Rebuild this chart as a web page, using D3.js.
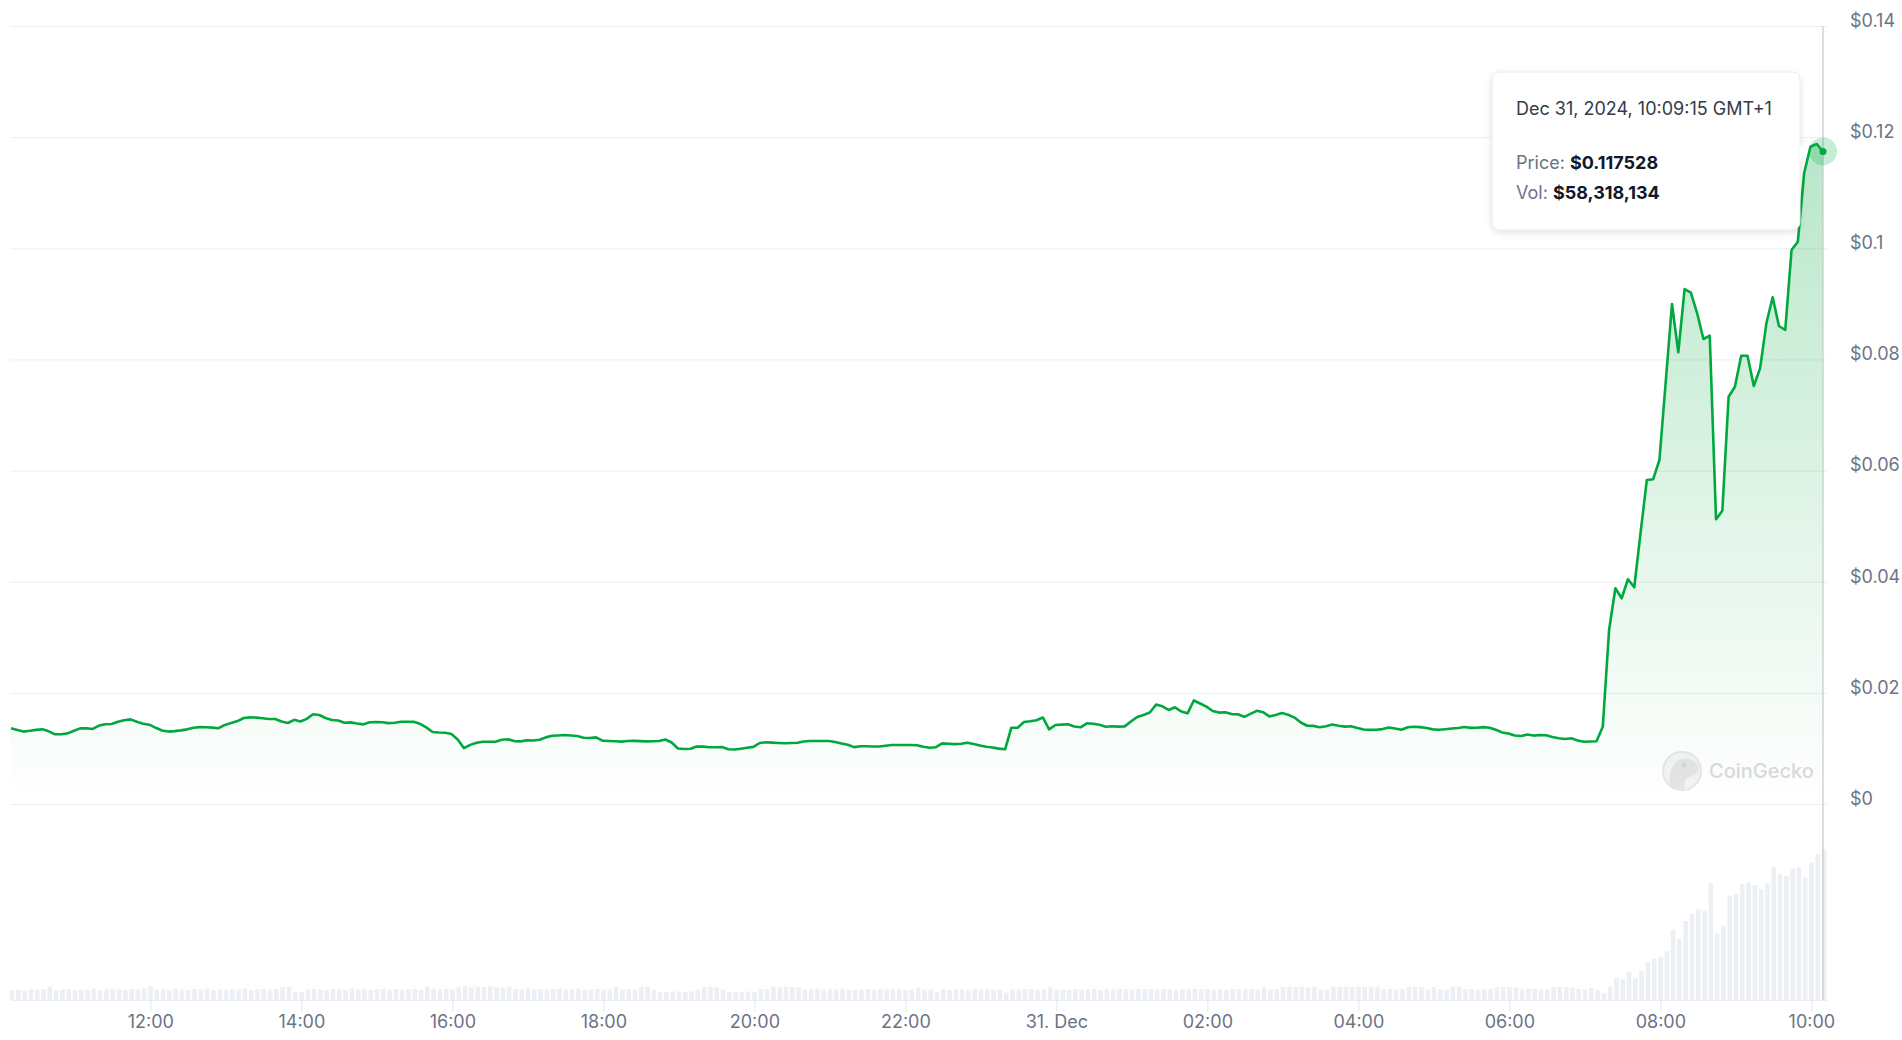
<!DOCTYPE html>
<html>
<head>
<meta charset="utf-8">
<script src="https://d3js.org/d3.v7.min.js"></script>
<style>
  html, body { margin: 0; padding: 0; background: #fff; }
  svg { display: block; font-family: "Inter", "Noto Sans", sans-serif; }
</style>
</head>
<body>
<div id="chart"></div>
<script>
    // 5 minute points, Dec 30 2024 10:09:15 -> Dec 31 2024 10:09:15 (GMT+1 wall clock)
    var startTime = Date.UTC(2024, 11, 30, 10, 9, 15);
    var stepMinutes = 5;

    // price in USD, one value per 5 minutes
    var prices = [
        0.01371, 0.01341, 0.01312, 0.01326, 0.01343, 0.01355, 0.01317, 0.01263, 0.01263, 0.01280, 0.01326, 0.01370,
        0.01373, 0.01359, 0.01420, 0.01445, 0.01449, 0.01490, 0.01517, 0.01532, 0.01488, 0.01454, 0.01436, 0.01380,
        0.01332, 0.01312, 0.01321, 0.01334, 0.01352, 0.01382, 0.01393, 0.01391, 0.01384, 0.01373, 0.01432, 0.01467,
        0.01501, 0.01557, 0.01568, 0.01564, 0.01551, 0.01539, 0.01539, 0.01494, 0.01467, 0.01524, 0.01494, 0.01540,
        0.01623, 0.01611, 0.01557, 0.01521, 0.01512, 0.01472, 0.01478, 0.01458, 0.01442, 0.01479, 0.01483, 0.01479,
        0.01465, 0.01472, 0.01490, 0.01490, 0.01487, 0.01452, 0.01388, 0.01305, 0.01296, 0.01292, 0.01269, 0.01170,
        0.01013, 0.01073, 0.01110, 0.01130, 0.01130, 0.01130, 0.01164, 0.01173, 0.01141, 0.01136, 0.01155, 0.01152,
        0.01164, 0.01208, 0.01236, 0.01243, 0.01250, 0.01241, 0.01234, 0.01202, 0.01198, 0.01208, 0.01150, 0.01143,
        0.01137, 0.01132, 0.01143, 0.01145, 0.01141, 0.01136, 0.01139, 0.01143, 0.01170, 0.01116, 0.01008, 0.00999,
        0.01004, 0.01044, 0.01042, 0.01029, 0.01031, 0.01035, 0.00995, 0.00990, 0.01004, 0.01020, 0.01037, 0.01107,
        0.01121, 0.01114, 0.01107, 0.01102, 0.01107, 0.01112, 0.01134, 0.01143, 0.01143, 0.01143, 0.01143, 0.01123,
        0.01098, 0.01075, 0.01033, 0.01048, 0.01049, 0.01044, 0.01044, 0.01058, 0.01071, 0.01071, 0.01071, 0.01071,
        0.01065, 0.01038, 0.01022, 0.01031, 0.01100, 0.01093, 0.01087, 0.01093, 0.01112, 0.01087, 0.01062, 0.01038,
        0.01026, 0.01006, 0.00993, 0.01382, 0.01382, 0.01485, 0.01497, 0.01517, 0.01566, 0.01353, 0.01431, 0.01438,
        0.01443, 0.01404, 0.01389, 0.01461, 0.01452, 0.01434, 0.01400, 0.01409, 0.01402, 0.01406, 0.01492, 0.01575,
        0.01611, 0.01656, 0.01798, 0.01766, 0.01701, 0.01749, 0.01674, 0.01640, 0.01872, 0.01818, 0.01760, 0.01683,
        0.01654, 0.01659, 0.01627, 0.01623, 0.01578, 0.01631, 0.01686, 0.01661, 0.01586, 0.01611, 0.01647, 0.01615,
        0.01564, 0.01476, 0.01417, 0.01415, 0.01389, 0.01407, 0.01438, 0.01418, 0.01402, 0.01407, 0.01375, 0.01350,
        0.01343, 0.01346, 0.01357, 0.01386, 0.01366, 0.01346, 0.01391, 0.01398, 0.01393, 0.01377, 0.01352, 0.01344,
        0.01355, 0.01368, 0.01377, 0.01395, 0.01379, 0.01382, 0.01393, 0.01382, 0.01344, 0.01297, 0.01278, 0.01243,
        0.01232, 0.01258, 0.01240, 0.01250, 0.01245, 0.01215, 0.01193, 0.01179, 0.01193, 0.01153, 0.01130, 0.01134,
        0.01137, 0.01400, 0.03140, 0.03891, 0.03711, 0.04053, 0.03909, 0.04886, 0.05840, 0.05852, 0.06199, 0.07603,
        0.09006, 0.08137, 0.09276, 0.09210, 0.08839, 0.08377, 0.08436, 0.05132, 0.05287, 0.07338, 0.07518, 0.08076,
        0.08076, 0.07531, 0.07849, 0.08659, 0.09127, 0.08611, 0.08539, 0.09978, 0.10128, 0.11359, 0.11837, 0.11886,
        0.117528
    ];

    // traded volume per 5 minutes, thousands of USD
    var volumes = [
        105, 110, 98, 112, 108, 116, 142, 104, 110, 118, 106, 112,
        108, 120, 104, 112, 118, 110, 106, 115, 112, 121, 145, 110,
        112, 104, 118, 110, 106, 115, 110, 120, 104, 112, 108, 116,
        110, 122, 106, 114, 118, 110, 116, 138, 142, 88, 85, 112,
        118, 110, 104, 116, 112, 108, 120, 110, 114, 106, 112, 118,
        110, 116, 108, 112, 118, 106, 145, 114, 110, 116, 112, 140,
        150, 135, 142, 138, 146, 140, 132, 144, 118, 112, 120, 110,
        116, 108, 114, 120, 110, 112, 118, 106, 112, 116, 108, 114,
        140, 112, 116, 110, 138, 142, 110, 86, 84, 90, 88, 86,
        92, 112, 136, 140, 134, 110, 86, 84, 88, 90, 86, 112,
        118, 140, 136, 142, 138, 134, 112, 110, 116, 108, 114, 112,
        118, 106, 112, 110, 116, 108, 114, 112, 110, 118, 106, 112,
        132, 110, 108, 80, 112, 106, 114, 110, 108, 116, 112, 110,
        108, 112, 78, 112, 110, 118, 114, 108, 112, 136, 112, 110,
        108, 116, 110, 112, 118, 106, 114, 110, 116, 112, 108, 114,
        112, 118, 110, 116, 112, 108, 114, 110, 118, 112, 116, 110,
        112, 108, 116, 110, 114, 118, 112, 135, 110, 116, 138, 142,
        136, 140, 134, 138, 112, 110, 140, 138, 142, 136, 140, 138,
        142, 136, 112, 116, 110, 118, 138, 140, 136, 112, 138, 114,
        110, 136, 138, 112, 116, 108, 114, 118, 136, 140, 138, 134,
        112, 118, 116, 110, 114, 136, 140, 138, 134, 118, 112, 128,
        106, 71, 141, 230, 219, 294, 230, 307, 406, 435, 456, 516,
        742, 647, 837, 915, 961, 947, 1237, 707, 788, 1106, 1120, 1230,
        1248, 1219, 1173, 1237, 1407, 1332, 1314, 1392, 1407, 1301, 1455, 1548,
        1600
    ];

    var yTicks = [0, 0.02, 0.04, 0.06, 0.08, 0.1, 0.12, 0.14];
    var yTickLabels = ["$0", "$0.02", "$0.04", "$0.06", "$0.08", "$0.1", "$0.12", "$0.14"];

    var tooltipDate = "Dec 31, 2024, 10:09:15 GMT+1";
    var tooltipVolume = 58318134;

    var data = prices.map(function (p, i) {
        return { t: new Date(startTime + i * stepMinutes * 60000), price: p, vol: volumes[i] };
    });

    var width = 1902, height = 1040;
    var plotLeft = 10, plotRight = 1827;
    var labelColor = "#6b7486";

    var x = d3.scaleUtc()
        .domain([data[0].t, data[data.length - 1].t])
        .range([11, 1823]);
    var y = d3.scaleLinear()
        .domain([0, 0.14])
        .range([804.5, 26.5]);
    var yVol = d3.scaleLinear()
        .domain([0, 1600])
        .range([1000, 849]);

    var svg = d3.select("#chart").append("svg")
        .attr("width", width)
        .attr("height", height);

    var defs = svg.append("defs");
    var grad = defs.append("linearGradient")
        .attr("id", "areaGrad")
        .attr("gradientUnits", "userSpaceOnUse")
        .attr("x1", 0).attr("x2", 0)
        .attr("y1", y(d3.max(prices))).attr("y2", y(0));
    grad.append("stop").attr("offset", "0%").attr("stop-color", "#00a83e").attr("stop-opacity", 0.28);
    grad.append("stop").attr("offset", "70%").attr("stop-color", "#00a83e").attr("stop-opacity", 0.08);
    grad.append("stop").attr("offset", "100%").attr("stop-color", "#00a83e").attr("stop-opacity", 0.0);

    var shadow = defs.append("filter").attr("id", "shadow")
        .attr("x", "-20%").attr("y", "-20%").attr("width", "140%").attr("height", "150%");
    shadow.append("feDropShadow")
        .attr("dx", 0).attr("dy", 2).attr("stdDeviation", 3)
        .attr("flood-color", "#000").attr("flood-opacity", 0.12);

    // grid lines + price axis labels
    svg.append("g").selectAll("line")
        .data(yTicks)
        .enter().append("line")
        .attr("x1", plotLeft).attr("x2", plotRight)
        .attr("y1", function (d) { return y(d); })
        .attr("y2", function (d) { return y(d); })
        .attr("stroke", "#eceef1")
        .attr("stroke-width", 1);

    svg.append("g").selectAll("text")
        .data(yTicks)
        .enter().append("text")
        .attr("x", 1850)
        .attr("y", function (d) { return y(d) - 6; })
        .attr("dy", "0.35em")
        .attr("font-size", 18)
        .attr("fill", labelColor)
        .text(function (d, i) { return yTickLabels[i]; });

    // volume bars
    svg.append("g").selectAll("rect")
        .data(data)
        .enter().append("rect")
        .attr("x", function (d) { return x(d.t) - 1.2; })
        .attr("width", 4.6)
        .attr("y", function (d) { return yVol(d.vol); })
        .attr("height", function (d) { return yVol(0) - yVol(d.vol); })
        .attr("fill", "#eceff3");

    svg.append("line")
        .attr("x1", plotLeft).attr("x2", plotRight)
        .attr("y1", 1000.5).attr("y2", 1000.5)
        .attr("stroke", "#eceef1");

    // time axis
    var xAxis = d3.axisBottom(x)
        .ticks(d3.utcHour.every(2))
        .tickSize(12)
        .tickPadding(3)
        .tickFormat(function (d) {
            return d.getUTCHours() === 0 ? d3.utcFormat("%-d. %b")(d) : d3.utcFormat("%H:%M")(d);
        });
    var gx = svg.append("g")
        .attr("transform", "translate(0,1000)")
        .call(xAxis);
    gx.select(".domain").remove();
    gx.selectAll(".tick line").attr("stroke", "#e3e6ea");
    gx.selectAll(".tick text")
        .attr("font-size", 18)
        .attr("font-family", "Inter, sans-serif")
        .attr("fill", labelColor);

    // watermark
    var wm = svg.append("g");
    wm.append("circle").attr("cx", 1682).attr("cy", 771).attr("r", 19)
        .attr("fill", "#f3f3f3").attr("stroke", "#e6e6e6").attr("stroke-width", 2);
    wm.append("path")
        .attr("d", "M1670,787 C1668,772 1672,760 1684,759 C1693,758 1700,764 1698,771 C1696,776 1689,776 1686,779 C1684,783 1685,787 1684,789 Z")
        .attr("fill", "#e4e4e4");
    wm.append("circle").attr("cx", 1684).attr("cy", 765).attr("r", 2.2).attr("fill", "#d4d4d4");
    wm.append("text")
        .attr("x", 1709).attr("y", 771).attr("dy", "0.35em")
        .attr("font-size", 20).attr("font-weight", 500)
        .attr("fill", "#dadada")
        .text("CoinGecko");

    // price area and line
    var area = d3.area()
        .x(function (d) { return x(d.t); })
        .y0(y(0))
        .y1(function (d) { return y(d.price); });
    svg.append("path")
        .datum(data)
        .attr("d", area)
        .attr("fill", "url(#areaGrad)");

    var line = d3.line()
        .x(function (d) { return x(d.t); })
        .y(function (d) { return y(d.price); });
    svg.append("path")
        .datum(data)
        .attr("d", line)
        .attr("fill", "none")
        .attr("stroke", "#00a83e")
        .attr("stroke-width", 2.6)
        .attr("stroke-linejoin", "round");

    // hover state on the last point
    var last = data[data.length - 1];
    var lx = x(last.t), ly = y(last.price);
    svg.append("line")
        .attr("x1", lx).attr("x2", lx)
        .attr("y1", 26).attr("y2", 1000)
        .attr("stroke", "#c4c8cf")
        .attr("stroke-width", 1.2);
    svg.append("circle").attr("cx", lx).attr("cy", ly).attr("r", 14)
        .attr("fill", "#00a83e").attr("fill-opacity", 0.22);
    svg.append("circle").attr("cx", lx).attr("cy", ly).attr("r", 3.5)
        .attr("fill", "#00a83e");

    // tooltip
    var tip = svg.append("g");
    tip.append("rect")
        .attr("x", 1492).attr("y", 72)
        .attr("width", 308).attr("height", 158)
        .attr("rx", 8)
        .attr("fill", "#fff")
        .attr("stroke", "#e8eaee")
        .attr("filter", "url(#shadow)");
    tip.append("path")
        .attr("d", "M1799.5,144 L1808,152 L1799.5,160 Z")
        .attr("fill", "#fff");
    tip.append("text")
        .attr("x", 1516).attr("y", 115)
        .attr("font-size", 18)
        .attr("fill", "#333b47")
        .text(tooltipDate);
    var t1 = tip.append("text").attr("x", 1516).attr("y", 168.5).attr("font-size", 18);
    t1.append("tspan").attr("fill", labelColor).text("Price: ");
    t1.append("tspan").attr("fill", "#111827").attr("font-weight", 700).text("$" + last.price);
    var t2 = tip.append("text").attr("x", 1516).attr("y", 198.5).attr("font-size", 18);
    t2.append("tspan").attr("fill", labelColor).text("Vol: ");
    t2.append("tspan").attr("fill", "#111827").attr("font-weight", 700).text("$" + d3.format(",")(tooltipVolume));
</script>
</body>
</html>
